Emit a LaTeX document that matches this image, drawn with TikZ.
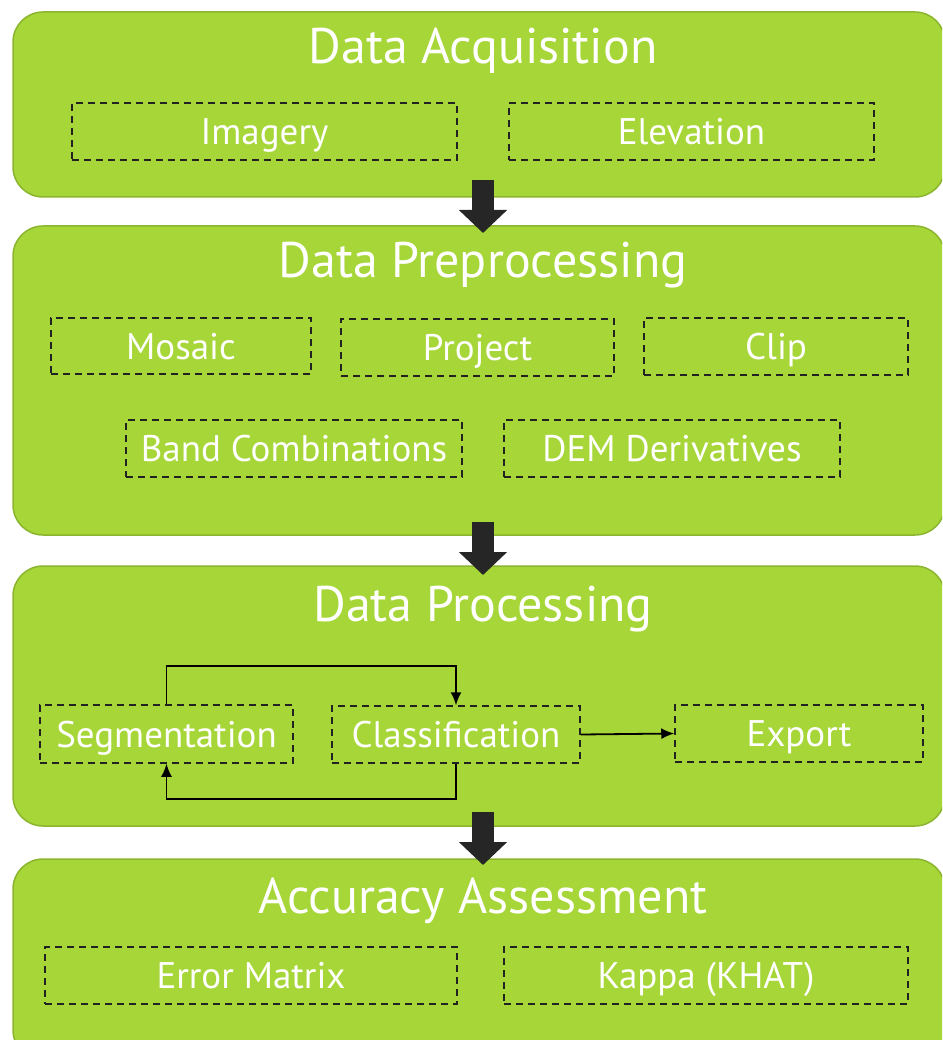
\documentclass[tikz,border=0pt]{standalone}
\usepackage{fontspec}
\setmainfont{PT Sans}
\usetikzlibrary{arrows.meta}
\definecolor{stagefill}{HTML}{A6D638}
\definecolor{stageedge}{HTML}{8CB52F}
\definecolor{blockarrow}{HTML}{262626}
\definecolor{dashline}{HTML}{222222}
\begin{document}
\begin{tikzpicture}[x=1pt,y=-1pt,
  stage/.style={draw=stageedge, fill=stagefill, line width=1.5pt, rounded corners=30pt,
    inner sep=0pt, minimum width=932pt},
  stagetitle/.style={text=white, anchor=base, inner sep=0pt,
    font=\fontsize{50}{56}\selectfont},
  task/.style={draw=dashline, dash pattern=on 7pt off 5pt, line width=1.5pt, text=white,
    inner sep=0pt, text height=26pt, text depth=0pt,
    font=\fontsize{37}{44}\selectfont},
  flow/.style={-{Latex[length=13pt,width=11pt]}, line width=1.8pt, draw=black},
  bigarrow/.style={draw=blockarrow, line width=22pt,
    -{Triangle[length=23pt,width=47pt]}}]
\useasboundingbox (0,0) rectangle (942,1040);
\clip (0,0) rectangle (942,1040);

% stages
\node[stage, minimum height=185pt] (acq)  at (479,104.5) {};
\node[stage, minimum height=309pt] (pre)  at (479,380.5) {};
\node[stage, minimum height=260pt] (proc) at (479,696) {};
\node[stage, minimum height=201pt] (acc)  at (479,959.5) {};

% stage titles
\node[stagetitle] (tacq)  at (483,64)  {Data Acquisition};
\node[stagetitle] (tpre)  at (483,278) {Data Preprocessing};
\node[stagetitle] (tproc) at (483,621) {Data Processing};
\node[stagetitle] (tacc)  at (483,913) {Accuracy Assessment};

% data acquisition
\node[task, minimum width=385pt, minimum height=57pt] (img) at (264.5,131.5) {Imagery};
\node[task, minimum width=365pt, minimum height=57pt] (ele) at (691.5,131.5) {Elevation};

% data preprocessing
\node[task, minimum width=260pt, minimum height=56pt] (mos)  at (181,346)   {Mosaic};
\node[task, minimum width=273pt, minimum height=57pt] (prj)  at (477.5,347.5) {Project};
\node[task, minimum width=264pt, minimum height=57pt] (clp)  at (776,346.5) {Clip};
\node[task, minimum width=336pt, minimum height=57pt] (band) at (294,448.5) {Band Combinations};
\node[task, minimum width=336pt, minimum height=57pt] (dem)  at (672,448.5) {DEM Derivatives};

% data processing
\node[task, minimum width=253pt, minimum height=58pt] (seg) at (166.5,734)   {Segmentation};
\node[task, minimum width=248pt, minimum height=57pt] (cls) at (456,734.5)   {Classification};
\node[task, minimum width=248pt, minimum height=57pt] (exp) at (799,733.5)   {Export};

% accuracy assessment
\node[task, minimum width=412pt, minimum height=57pt] (err) at (251,975.5) {Error Matrix};
\node[task, minimum width=404pt, minimum height=57pt] (kap) at (706,975.5) {Kappa (KHAT)};

% segmentation / classification loop
\draw[flow] (seg.north) -- ++(0,-38) -| (cls.north);
\draw[flow] (cls.south) -- ++(0,35) -| (seg.south);
\draw[flow] (cls.east) -- (exp.west);

% flow between stages
\coordinate (a1s) at (483,180); \coordinate (a1e) at (483,233);
\coordinate (a2s) at (483,522); \coordinate (a2e) at (483,575);
\coordinate (a3s) at (483,812); \coordinate (a3e) at (483,865);
\draw[bigarrow] (a1s) -- (a1e);
\draw[bigarrow] (a2s) -- (a2e);
\draw[bigarrow] (a3s) -- (a3e);
\end{tikzpicture}
\end{document}
